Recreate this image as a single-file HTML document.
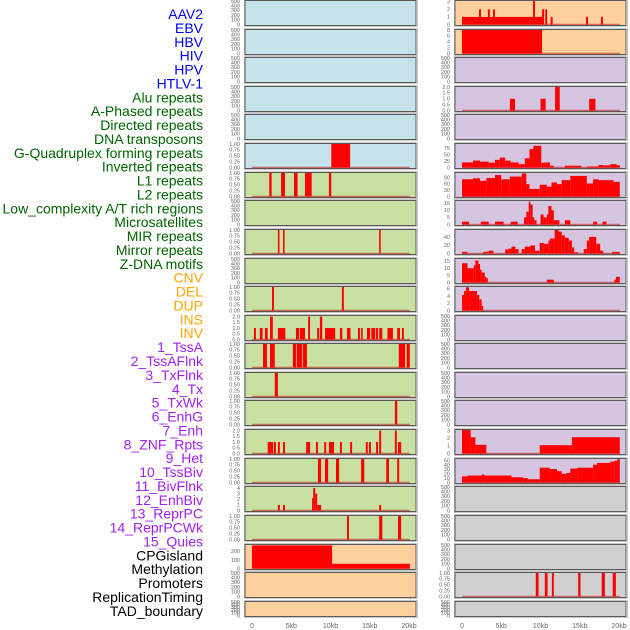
<!DOCTYPE html>
<html><head><meta charset="utf-8"><style>
html,body{margin:0;padding:0;background:#fff;width:630px;height:630px;overflow:hidden}
svg{display:block;font-family:"Liberation Sans",sans-serif}
</style></head><body>
<svg id="chart" width="630" height="630" viewBox="0 0 630 630" xmlns="http://www.w3.org/2000/svg">
<g id="labels"></g>
<g id="panels"></g>
<g id="xaxes"></g>
</svg>
<script>
// ---- data ----
const trackNames = ["AAV2","EBV","HBV","HIV","HPV","HTLV-1","Alu repeats","A-Phased repeats","Directed repeats","DNA transposons","G-Quadruplex forming repeats","Inverted repeats","L1 repeats","L2 repeats","Low_complexity A/T rich regions","Microsatellites","MIR repeats","Mirror repeats","Z-DNA motifs","CNV","DEL","DUP","INS","INV","1_TssA","2_TssAFlnk","3_TxFlnk","4_Tx","5_TxWk","6_EnhG","7_Enh","8_ZNF_Rpts","9_Het","10_TssBiv","11_BivFlnk","12_EnhBiv","13_ReprPC","14_ReprPCWk","15_Quies","CPGisland","Methylation","Promoters","ReplicationTiming","TAD_boundary"];
const trackGroups = [0,0,0,0,0,0,1,1,1,1,1,1,1,1,1,1,1,1,1,2,2,2,2,2,3,3,3,3,3,3,3,3,3,3,3,3,3,3,3,4,4,4,4,4];
const xTickValues = [0,5,10,15,20];
const xTickLabels = ["0","5kb","10kb","15kb","20kb"];

// bar intervals [startKb, endKb, value]
const L5 = [[10.1,12.5,1]];
const L6 = [[2.2,2.5,1],[3.7,4.2,1],[5.35,5.8,1],[6.75,7.6,1],[9.8,10.1,1]];
const L8 = [[3.3,3.5,1],[3.95,4.15,1],[16.2,16.4,1]];
const L10 = [[2.55,2.8,1],[11.45,11.7,1]];
const L11 = [[0.25,0.5,1],[1.0,1.35,1],[1.65,2.0,1],[2.3,2.65,2],[3.3,4.25,1],[5.6,6.0,1],[6.1,6.75,1],[7.15,7.4,2],[8.3,8.55,1],[8.65,8.95,2],[9.3,10.6,1],[11.2,11.5,1],[12.1,12.55,1],[13.5,13.75,1],[13.9,14.1,1],[14.65,15.05,1],[15.2,15.7,1],[15.8,16.05,1],[16.2,16.6,1],[17.25,17.95,1],[18.5,18.85,1],[19.1,19.35,1]];
const L12 = [[1.4,1.9,1],[2.3,2.9,1],[5.2,5.6,1],[5.7,6.4,1],[6.5,7.0,1],[18.7,19.5,1],[19.7,20.1,1]];
const L13 = [[2.9,3.3,1]];
const L14 = [[18.2,18.5,1]];
const L15 = [[2.0,2.4,1],[2.4,2.7,1],[2.8,3.05,1],[3.3,3.55,1],[3.95,4.2,1],[6.9,7.4,1],[8.15,8.4,1],[9.2,9.45,1],[9.8,10.45,1],[11.2,11.45,1],[12.5,12.75,1],[14.5,14.75,1],[14.9,15.15,1],[15.8,16.05,1],[16.2,16.45,2],[18.2,18.45,2],[18.6,19.0,1]];
const L16 = [[8.4,8.8,1],[9.3,9.7,1],[10.7,11.1,1],[13.9,14.3,1],[17.1,17.45,1],[18.5,18.75,1]];
const L17 = [[3.3,3.55,1],[3.95,4.2,1],[7.65,7.8,2.2],[7.8,8.05,4],[8.05,8.3,3],[8.3,8.8,1],[16.2,16.45,1]];
const L18 = [[12.1,12.35,1],[16.2,16.6,1],[18.6,19.0,1]];
const L19 = [[0,10.2,270],[10.2,20.1,55]];
const R0 = [[0,10.3,1],[2.17,2.42,2],[3.3,3.55,2],[3.95,4.2,2],[9.05,9.3,3.1],[10.2,10.45,2],[10.6,10.85,2],[11.3,11.55,1],[15.8,16.05,1],[17.7,17.95,1]];
const R1 = [[0,10.2,8]];
const R3 = [[6.1,6.75,1],[10.0,10.65,1],[11.85,12.45,2],[16.2,17.0,1]];
const R20 = [[9.4,9.75,1],[10.55,10.9,1],[11.45,11.7,1],[14.8,15.1,1],[17.8,18.2,1],[19.2,19.6,1]];
// step profiles [startKb, value]
const R5 = [[0,20],[1.4,27],[2.3,23],[3.4,19],[4.2,30],[4.8,39],[5.5,27],[6.2,20],[7.2,13],[8.0,36],[8.6,72],[9.1,85],[10.1,19],[10.6,20],[11.2,7],[11.7,0],[13.1,7],[15.2,0],[15.9,4],[17.4,10],[18.0,8],[18.9,13],[19.7,9]];
const R6 = [[0,82],[1.4,87],[2.3,75],[3.1,88],[4.2,102],[5.0,82],[6.1,95],[7.6,110],[8.2,59],[8.6,36],[9.9,56],[10.8,47],[11.4,67],[12.1,59],[12.7,78],[13.8,98],[15.9,62],[16.7,82],[17.4,78],[19.3,70]];
const R7 = [[0,2],[0.9,0],[2.4,2],[3.4,0],[4.2,2],[5.3,0],[6.2,2],[7.1,0],[7.9,5],[8.2,9],[8.5,16],[8.7,14],[9.0,5],[9.2,3],[9.5,0],[10.0,7],[10.4,5],[10.8,7],[11.0,13],[11.4,10],[11.7,3],[12.4,0],[13.1,3],[13.8,0],[16.7,2],[17.2,0],[17.9,2],[18.4,0]];
const R8 = [[0,4],[0.7,0],[2.7,4],[3.4,7],[4.0,0],[5.5,10],[5.9,12],[6.3,17],[6.8,11],[7.2,0],[7.6,11],[8.0,17],[8.7,20],[9.3,7],[9.9,26],[10.4,24],[11.0,32],[11.2,37],[11.8,58],[12.3,54],[12.7,45],[13.1,39],[13.6,32],[14.0,15],[14.3,3],[14.8,0],[15.5,11],[15.9,32],[16.2,41],[17.1,24],[17.6,7],[18.0,0],[19.1,4]];
const R9 = [[0,13.5],[0.7,10],[1.5,12],[1.7,15.5],[2.1,13],[2.3,9],[2.5,7],[2.9,4],[3.1,3],[3.3,0],[10.8,2],[11.7,0],[19.4,2],[19.6,4]];
const R10 = [[0,4.3],[0.25,5.4],[0.5,6.4],[0.9,5.4],[1.9,4.3],[2.2,3.1],[2.5,1.3],[2.7,0]];
const R15 = [[0,3.1],[1.1,2.15],[1.7,1.15],[3.1,0],[9.9,1.1],[14.0,2.15]];
const R16 = [[0,14],[0.7,16],[2.5,18],[2.9,16],[6.3,12],[7.8,10],[8.4,7.5],[9.9,34],[11.2,31],[12.1,26],[12.7,20],[13.3,22],[13.8,32],[14.7,34],[16.7,41],[17.2,45],[18.9,48],[19.4,50],[19.8,54]];

const tEmpty = ["0","100","200","300","400","500"];
const t01 = ["0.00","0.25","0.50","0.75","1.00"];
const t02 = ["0.0","0.5","1.0","1.5","2.0"];
</script>
<script>
const svg = document.getElementById('chart');
const NS = 'http://www.w3.org/2000/svg';
const groupColors = ['#0000ee','#006400','#ffa500','#a020f0','#000000'];
const END = 20.1;
function mk(tag, attrs, parent){ const e=document.createElementNS(NS,tag); for(const k in attrs) e.setAttribute(k,attrs[k]); parent.appendChild(e); return e; }
function steps(p){ return p.map((s,i)=>[s[0], i+1<p.length?p[i+1][0]:END, s[1]]); }
function tickVals(max,n){ const a=[]; for(let i=0;i<n;i++) a.push(max*i/(n-1)); return a; }

// labels
const lab = document.getElementById('labels');
trackNames.forEach((n,i)=>{
  const t = mk('text',{x:203,y:19+i*13.88,'text-anchor':'end','font-size':14,fill:groupColors[trackGroups[i]]},lab);
  
  
  t.textContent = n;
});

// panel specs: [bg, data, ymax, ticks(labels), tickMax]
const B='#c6e2ea',G='#c8e0a2',O='#fdd09e',P='#d5c5e1',Y='#d0d0d0';
const E=null;
const leftSpec = [
 [B,E],[B,E],[B,E],[B,E],[B,E],
 [B,L5,1,t01,1],[G,L6,1,t01,1],[G,E],[G,L8,1,t01,1],[G,E],[G,L10,1,t01,1],
 [G,L11,2.05,["0.0","0.5","1.0","1.5","2.0"],2],[G,L12,1,t01,1],[G,L13,1,t01,1],[G,L14,1,t01,1],
 [G,L15,2.05,t02,2],[G,L16,1,t01,1],[G,L17,4.2,["0","1","2","3","4"],4],[G,L18,1,t01,1],
 [O,L19,275,["0","100","200"],200],[O,E],[O,E]
];
const rightSpec = [
 [O,R0,3.1,["0","1","2","3"],3],[O,R1,8,["0","2","4","6","8"],8],[P,E],[P,R3,2,t02,2],[P,E],
 [P,steps(R5),92,["0","25","50","75"],75],[P,steps(R6),112,["0","30","60","90"],90],[P,steps(R7),16.5,["0","5","10","15"],15],
 [P,steps(R8),58,["0","20","40"],40],[P,steps(R9),16.5,["0","5","10","15"],15],[P,steps(R10),6.5,["0","2","4","6"],6],
 [P,E],[P,E],[P,E],[P,E],[P,steps(R15),3.1,["0","1","2","3"],3],[P,steps(R16),54,["0","10","20","30","40","50"],50],
 [Y,E],[Y,E],[Y,E],[Y,R20,1,t01,1],[Y,E]
];
const tops=[0,29,57,86,114,143,172,200,229,258,286,315,343,372,400,429,458,486,515,544,572,601];
const pg = document.getElementById('panels');
function drawPanel(spec,row,x0,x1,dataX0){
  const top=tops[row], h=(row===21?15:25);
  const g=mk('g',{},pg);
  
  
  mk('rect',{x:x0-0.5,y:top-0.5,width:x1-x0+2,height:h+2,fill:'none',stroke:'#c8c8c8','stroke-width':1},g);
  mk('rect',{x:x0,y:top+0.5,width:x1-x0,height:h,fill:spec[0],stroke:'#5a5a5a','stroke-width':1},g);
  const xs=v=>dataX0+v*7.85;
  let labels, tmax, ymax;
  if(!spec[1]){ labels=tEmpty; tmax=500; ymax=500; }
  else { ymax=spec[2]; labels=spec[3]; tmax=spec[4]; }
  const ys=v=>top+h-0.5-v/ymax*(h-1.5);
  const tv=tickVals(tmax,labels.length);
  labels.forEach((l,i)=>{
    const t=mk('text',{x:x0-5,y:ys(tv[i])+1.8,'text-anchor':'end','font-size':5.5,fill:'#666'},g);
    
    
    t.textContent=l;
  });
  if(spec[1]){
    mk('line',{x1:xs(0),x2:xs(END),y1:top+h-0.5,y2:top+h-0.5,stroke:'rgba(190,20,20,0.55)','stroke-width':1.5},g);
    spec[1].forEach(d=>{
      if(d[2]<=0) return;
      const r=mk('rect',{x:xs(d[0]),y:ys(d[2]),width:Math.max(0.8,xs(d[1])-xs(d[0])),height:ys(0)-ys(d[2]),fill:'#ff0000'},g);
      
      
    });
  }
}
leftSpec.forEach((s,i)=>drawPanel(s,i,245,416,252));
rightSpec.forEach((s,i)=>drawPanel(s,i,455,626,462));

const xa=document.getElementById('xaxes');
[252,462].forEach(x0=>{
  xTickValues.forEach((v,i)=>{
    const t=mk('text',{x:x0+v*7.85,y:628,'text-anchor':'middle','font-size':7,fill:'#666'},xa);
    
    
    t.textContent=xTickLabels[i];
  });
});
</script>
</body></html>
